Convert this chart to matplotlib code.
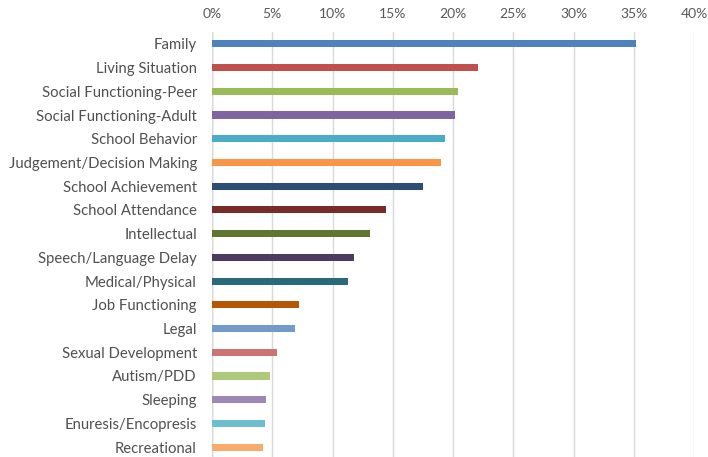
import matplotlib
matplotlib.use("Agg")
import matplotlib.pyplot as plt
from matplotlib.ticker import FuncFormatter

categories = ["Family", "Living Situation", "Social Functioning-Peer", "Social Functioning-Adult",
              "School Behavior", "Judgement/Decision Making", "School Achievement", "School Attendance",
              "Intellectual", "Speech/Language Delay", "Medical/Physical", "Job Functioning", "Legal",
              "Sexual Development", "Autism/PDD", "Sleeping", "Enuresis/Encopresis", "Recreational"]
values = [35.2, 22.1, 20.4, 20.15, 19.3, 19.0, 17.5, 14.45, 13.1, 11.8, 11.3, 7.25, 6.9, 5.4, 4.8, 4.5, 4.4, 4.2]
colors = ["#4F81BD", "#C0504D", "#9BBB59", "#8064A2", "#4BACC6", "#F79646", "#2C4D75", "#772C2A",
          "#5F7530", "#4D3B62", "#276A7C", "#B65708", "#729ACA", "#CD7371", "#AFC97A", "#9C87B8",
          "#6FBDD1", "#F9AB6B"]
xticks = [0, 5, 10, 15, 20, 25, 30, 35, 40]

plt.rcParams['font.family'] = ['Lato', 'DejaVu Sans']
fig = plt.figure(figsize=(7.08, 4.57), dpi=100)
W, H = 708, 457
left, right, top, bottom = 212, 694, 32, 459
ax = fig.add_axes([left / W, 1 - bottom / H, (right - left) / W, (bottom - top) / H])

y = list(range(len(categories)))
ax.barh(y, values, height=0.3, color=colors, zorder=3)
ax.set_ylim(len(categories) - 0.5, -0.5)
ax.set_xlim(0, 40)
ax.set_xticks(xticks)
ax.xaxis.set_major_formatter(FuncFormatter(lambda v, p: f"{int(v)}%"))
ax.xaxis.tick_top()
ax.set_yticks(y)
ax.set_yticklabels(categories)
ax.tick_params(axis='x', length=0, labelsize=10, colors="#595959", pad=9)
ax.tick_params(axis='y', length=0, labelsize=10.7, labelcolor="#505050", pad=10.8)
for s in ax.spines.values():
    s.set_visible(False)
ax.grid(axis='x', color="#D9D9D9", linewidth=1.0, zorder=0)
ax.axvline(0, color="#BFBFBF", linewidth=1.0, zorder=1)

fig.savefig("out.png", dpi=100)
